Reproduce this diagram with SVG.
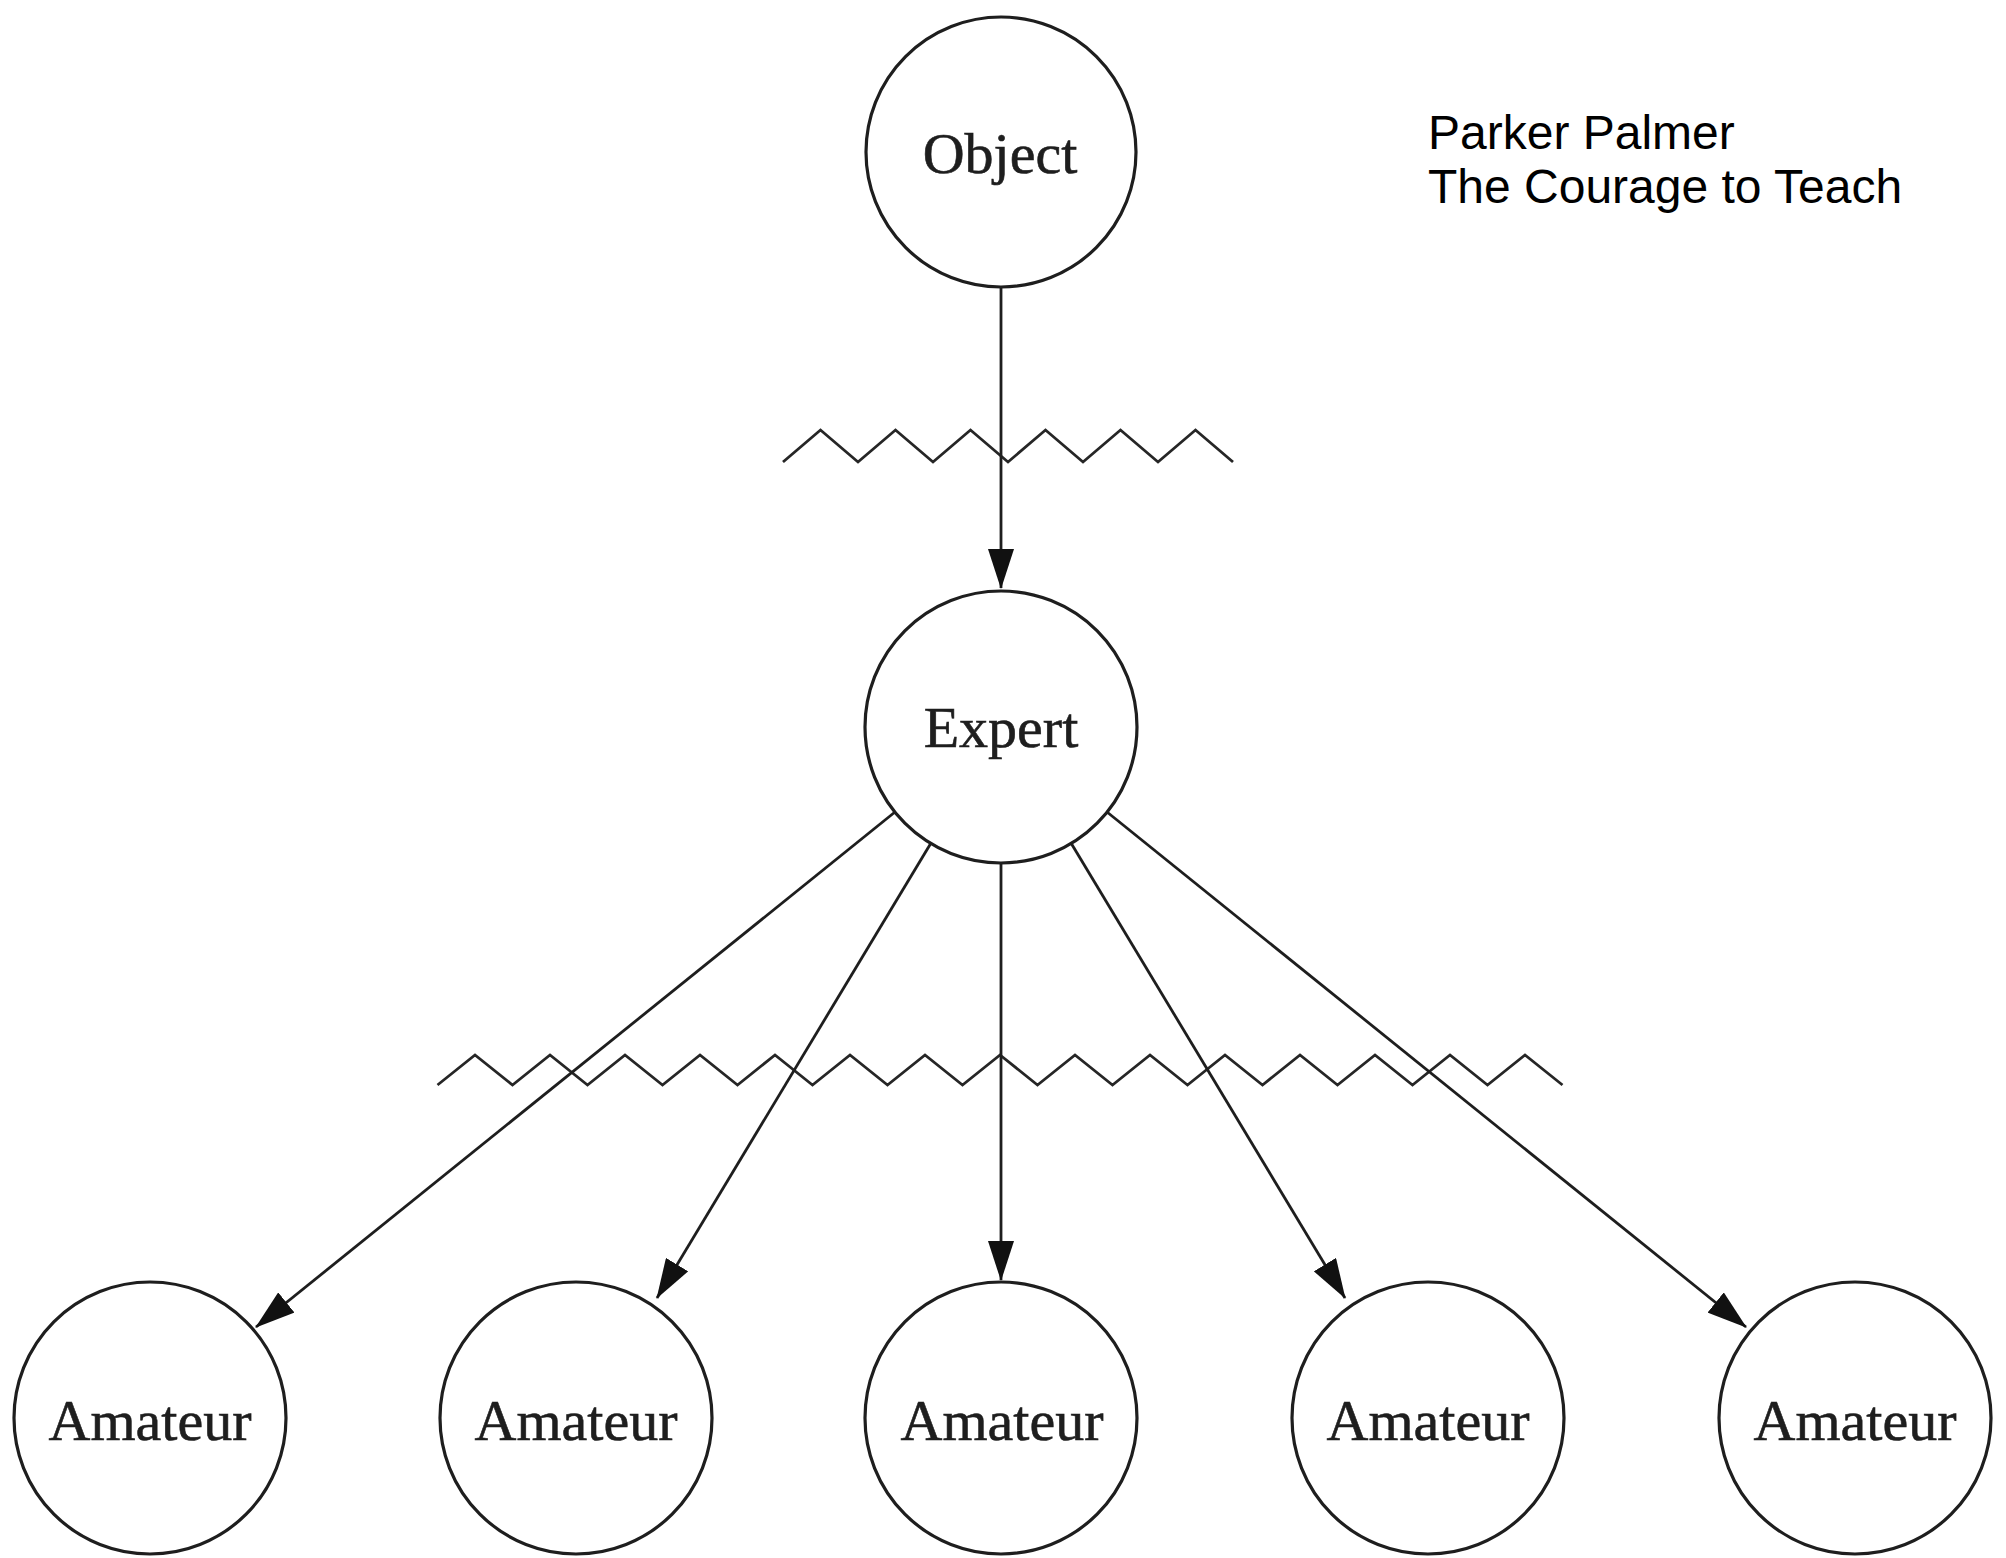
<svg xmlns="http://www.w3.org/2000/svg" width="2006" height="1558" viewBox="0 0 2006 1558">
  <style>
    .node circle { fill: #ffffff; stroke: #1e1e1e; stroke-width: 3.2; }
    .node text { font-family: "Liberation Serif", "DejaVu Serif", serif; font-size: 58px; fill: #1e1e1e; stroke: #1e1e1e; stroke-width: 0.6; text-anchor: middle; }
    .edge { stroke: #1e1e1e; stroke-width: 2.8; fill: none; marker-end: url(#arrow); }
    .barrier { stroke: #262626; stroke-width: 2.8; fill: none; stroke-linejoin: miter; }
    .caption { font-family: "Liberation Sans", Arial, sans-serif; font-size: 48px; fill: #000000; }
  </style>
  <defs>
    <marker id="arrow" markerUnits="userSpaceOnUse" markerWidth="40" markerHeight="26" viewBox="0 0 40 26" refX="39" refY="13" orient="auto">
      <path d="M0,0 L40,13 L0,26 Z" fill="#111111"/>
    </marker>
  </defs>

  <rect width="2006" height="1558" fill="#ffffff"/>

  <!-- barriers -->
  <g id="barriers">
    <polyline class="barrier" points="783,462 820.5,430 858,462 895.5,430 933,462 970.5,430 1008,462 1045.5,430 1083,462 1120.5,430 1158,462 1195.5,430 1233,462"/>
    <polyline class="barrier" points="437.5,1085 475,1055 512.5,1085 550,1055 587.5,1085 625,1055 662.5,1085 700,1055 737.5,1085 775,1055 812.5,1085 850,1055 887.5,1085 925,1055 962.5,1085 1000,1055 1037.5,1085 1075,1055 1112.5,1085 1150,1055 1187.5,1085 1225,1055 1262.5,1085 1300,1055 1337.5,1085 1375,1055 1412.5,1085 1450,1055 1487.5,1085 1525,1055 1562.5,1085"/>
  </g>

  <!-- connectors -->
  <g id="connectors">
    <line class="edge" x1="1001" y1="288" x2="1001" y2="588"/>
    <line class="edge" x1="895" y1="812" x2="256" y2="1327"/>
    <line class="edge" x1="931" y1="843" x2="657" y2="1298"/>
    <line class="edge" x1="1001" y1="863" x2="1001" y2="1280"/>
    <line class="edge" x1="1071" y1="843" x2="1345" y2="1298"/>
    <line class="edge" x1="1107" y1="812" x2="1746" y2="1327"/>
  </g>

  <!-- nodes -->
  <g id="object" class="node">
    <circle cx="1001" cy="152" r="135"/>
    <text x="1000" y="173">Object</text>
  </g>
  <g id="expert" class="node">
    <circle cx="1001" cy="727" r="136"/>
    <text x="1001" y="747">Expert</text>
  </g>
  <g id="amateur-1" class="node">
    <circle cx="150" cy="1418" r="136"/>
    <text x="150" y="1440">Amateur</text>
  </g>
  <g id="amateur-2" class="node">
    <circle cx="576" cy="1418" r="136"/>
    <text x="576" y="1440">Amateur</text>
  </g>
  <g id="amateur-3" class="node">
    <circle cx="1001" cy="1418" r="136"/>
    <text x="1002" y="1440">Amateur</text>
  </g>
  <g id="amateur-4" class="node">
    <circle cx="1428" cy="1418" r="136"/>
    <text x="1428" y="1440">Amateur</text>
  </g>
  <g id="amateur-5" class="node">
    <circle cx="1855" cy="1418" r="136"/>
    <text x="1855" y="1440">Amateur</text>
  </g>

  <!-- source caption -->
  <g id="caption">
    <text class="caption" x="1428" y="149">Parker Palmer</text>
    <text class="caption" x="1428" y="203">The Courage to Teach</text>
  </g>
</svg>
